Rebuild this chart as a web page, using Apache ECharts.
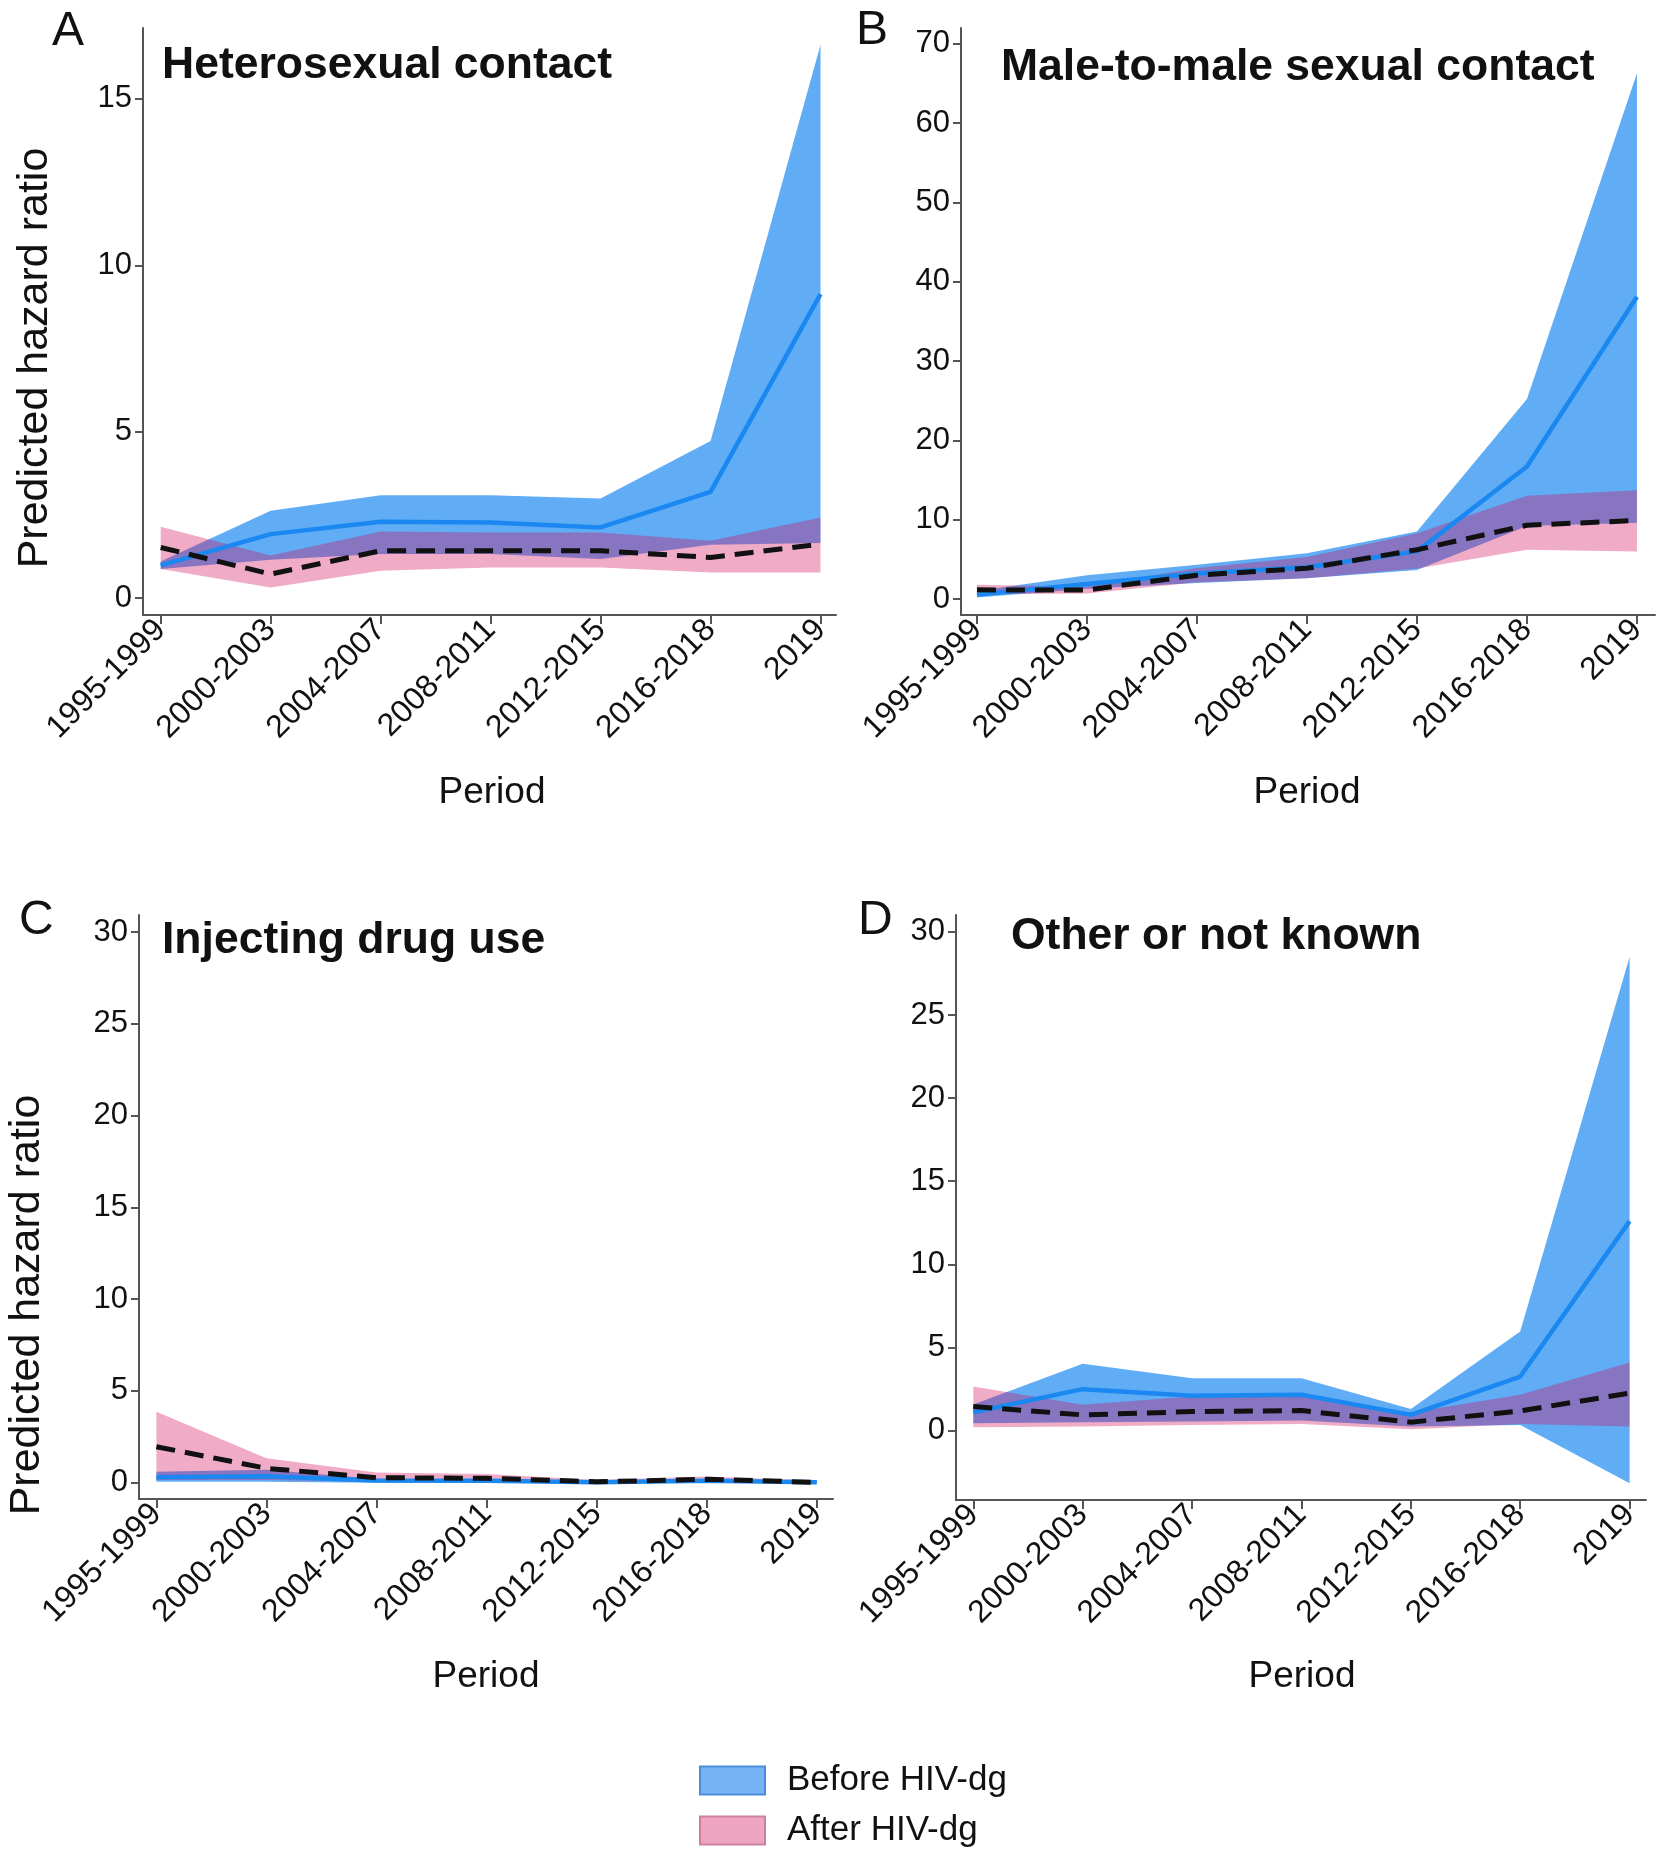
<!DOCTYPE html>
<html><head><meta charset="utf-8">
<script src="https://cdn.jsdelivr.net/npm/echarts@6/dist/echarts.min.js"></script>
<style>html,body{margin:0;padding:0;background:#fff}#c{width:1661px;height:1854px}</style>
</head><body><div id="c"></div>
<script>
// ---------- data ----------
const periods = ['1995-1999','2000-2003','2004-2007','2008-2011','2012-2015','2016-2018','2019'];
const xTicks = [0,1,2,3,4,5,6];
const yTicksA = [0,5,10,15];
const yTicksB = [0,10,20,30,40,50,60,70];
const yTicksC = [0,5,10,15,20,25,30];
const yTicksD = [0,5,10,15,20,25,30];
const panelTitles = ['Heterosexual contact','Male-to-male sexual contact','Injecting drug use','Other or not known'];
const panelLetters = ['A','B','C','D'];
const legendNames = ['Before HIV-dg','After HIV-dg'];

// A: Heterosexual contact
const A_beforeMean = [0.98, 1.92, 2.29, 2.27, 2.12, 3.19, 9.13];
const A_beforeLow  = [0.87, 1.15, 1.32, 1.32, 1.17, 1.60, 1.65];
const A_beforeHigh = [1.10, 2.62, 3.09, 3.09, 2.99, 4.72, 16.63];
const A_afterMean  = [1.52, 0.72, 1.42, 1.42, 1.42, 1.22, 1.62];
const A_afterLow   = [0.87, 0.32, 0.82, 0.92, 0.92, 0.77, 0.77];
const A_afterHigh  = [2.14, 1.28, 2.00, 1.97, 1.97, 1.72, 2.42];
// B: Male-to-male sexual contact
const B_beforeMean = [0.55, 1.90, 3.20, 4.00, 6.00, 16.7, 38.1];
const B_beforeLow  = [0.20, 1.30, 2.00, 2.60, 3.65, 9.2, 9.6];
const B_beforeHigh = [1.00, 3.00, 4.30, 5.75, 8.50, 25.2, 66.3];
const B_afterMean  = [1.15, 1.13, 3.00, 3.87, 6.20, 9.3, 9.9];
const B_afterLow   = [0.60, 0.70, 2.10, 2.60, 3.85, 6.2, 6.0];
const B_afterHigh  = [1.80, 1.55, 3.90, 5.30, 8.30, 13.0, 13.7];
// C: Injecting drug use
const C_beforeMean = [0.30, 0.35, 0.12, 0.10, 0.02, 0.10, 0.02];
const C_beforeLow  = [0.05, 0.05, 0.00, 0.00, 0.00, 0.00, 0.00];
const C_beforeHigh = [0.60, 0.70, 0.20, 0.18, 0.08, 0.20, 0.08];
const C_afterMean  = [1.96, 0.78, 0.27, 0.24, 0.05, 0.18, 0.02];
const C_afterLow   = [0.15, 0.15, 0.05, 0.05, 0.00, 0.05, 0.00];
const C_afterHigh  = [3.87, 1.33, 0.55, 0.47, 0.15, 0.33, 0.10];
// D: Other or not known
const D_beforeMean = [1.10, 2.49, 2.09, 2.15, 0.94, 3.25, 12.6];
const D_beforeLow  = [0.44, 0.50, 0.54, 0.60, 0.24, 0.34, -3.17];
const D_beforeHigh = [1.56, 4.02, 3.15, 3.15, 1.29, 5.96, 28.5];
const D_afterMean  = [1.45, 0.94, 1.14, 1.20, 0.50, 1.18, 2.25];
const D_afterLow   = [0.20, 0.25, 0.34, 0.40, 0.08, 0.40, 0.24];
const D_afterHigh  = [2.65, 1.55, 2.05, 2.09, 1.08, 2.15, 4.10];

// ---------- layout / style ----------
const FONT = "'Liberation Sans', Arial, Helvetica, sans-serif";
const blueFill = 'rgba(28,138,242,0.70)';
const pinkFill = 'rgba(212,10,90,0.34)';
const blueLine = '#1a88f0';
const axisCol = '#555';

const panels = [
  {grid:{left:143, top:28, width:693, height:587}, x:[-0.161,6.141], y:[-0.51,17.13], yt:yTicksA,
   bm:A_beforeMean, bl:A_beforeLow, bh:A_beforeHigh, am:A_afterMean, al:A_afterLow, ah:A_afterHigh},
  {grid:{left:961, top:28, width:694, height:587}, x:[-0.145,6.164], y:[-2.02,71.99], yt:yTicksB,
   bm:B_beforeMean, bl:B_beforeLow, bh:B_beforeHigh, am:B_afterMean, al:B_afterLow, ah:B_afterHigh},
  {grid:{left:139, top:915, width:694, height:584}, x:[-0.158,6.147], y:[-0.89,30.93], yt:yTicksC,
   bm:C_beforeMean, bl:C_beforeLow, bh:C_beforeHigh, am:C_afterMean, al:C_afterLow, ah:C_afterHigh},
  {grid:{left:956, top:915, width:690, height:585}, x:[-0.158,6.15], y:[-4.18,31.02], yt:yTicksD,
   bm:D_beforeMean, bl:D_beforeLow, bh:D_beforeHigh, am:D_afterMean, al:D_afterLow, ah:D_afterHigh}
];

const grids = [], xAxes = [], yAxes = [], series = [];
panels.forEach((p, k) => {
  grids.push(Object.assign({containLabel:false}, p.grid));
  xAxes.push({
    type:'value', gridIndex:k, min:p.x[0], max:p.x[1],
    axisLine:{show:true, onZero:false, lineStyle:{color:axisCol, width:2}},
    axisTick:{show:true, customValues:xTicks, length:9, lineStyle:{color:axisCol, width:2}},
    axisLabel:{show:true, customValues:xTicks, rotate:45, margin:10, fontSize:32, color:'#111', fontFamily:FONT,
               formatter:(v)=>periods[Math.round(v)]},
    splitLine:{show:false}
  });
  yAxes.push({
    type:'value', gridIndex:k, min:p.y[0], max:p.y[1],
    axisLine:{show:true, onZero:false, lineStyle:{color:axisCol, width:2}},
    axisTick:{show:true, customValues:p.yt, length:8, lineStyle:{color:axisCol, width:2}},
    axisLabel:{show:true, customValues:p.yt, margin:11, fontSize:31, color:'#111', fontFamily:FONT},
    splitLine:{show:false}
  });
  const band = (name, lows, highs, color) => ({
    type:'custom', name, xAxisIndex:k, yAxisIndex:k, data:[[0,0]], silent:true, clip:true,
    itemStyle:{color},
    renderItem:(params, api) => {
      const pts = [];
      for (let i = 0; i < highs.length; i++) pts.push(api.coord([i, highs[i]]));
      for (let i = lows.length - 1; i >= 0; i--) pts.push(api.coord([i, lows[i]]));
      return {type:'polygon', shape:{points:pts}, style:{fill:color}};
    }
  });
  series.push(band(legendNames[0], p.bl, p.bh, blueFill));
  series.push(band(legendNames[1], p.al, p.ah, pinkFill));
  series.push({type:'line', name:'beforeMean'+k, xAxisIndex:k, yAxisIndex:k, symbol:'none', silent:true,
    data:p.bm.map((v,i)=>[i,v]), lineStyle:{color:blueLine, width:4.5}, z:3});
  series.push({type:'line', name:'afterMean'+k, xAxisIndex:k, yAxisIndex:k, symbol:'none', silent:true,
    data:p.am.map((v,i)=>[i,v]), lineStyle:{color:'#111', width:5, type:[19,10], cap:'butt'}, z:4});
});

const txt = (text, x, y, size, weight, align) => ({
  type:'text', x, y, silent:true,
  style:{text, font:(weight||'normal')+' '+size+'px '+FONT, fill:'#111', textAlign:align||'left', textVerticalAlign:'middle'}
});

const graphics = [
  txt(panelLetters[0], 52, 32, 48),
  txt(panelLetters[1], 856, 31, 48),
  txt(panelLetters[2], 19, 921, 48),
  txt(panelLetters[3], 858, 921, 48),
  txt(panelTitles[0], 162, 66, 44.5, 'bold'),
  txt(panelTitles[1], 1001, 68, 44.5, 'bold'),
  txt(panelTitles[2], 162, 941, 44.5, 'bold'),
  txt(panelTitles[3], 1011, 937, 44.5, 'bold'),
  {type:'text', x:35, y:358, rotation:Math.PI/2, silent:true,
   style:{text:'Predicted hazard ratio', font:'normal 43px '+FONT, fill:'#111', textAlign:'center', textVerticalAlign:'middle'}},
  {type:'text', x:27, y:1305, rotation:Math.PI/2, silent:true,
   style:{text:'Predicted hazard ratio', font:'normal 43px '+FONT, fill:'#111', textAlign:'center', textVerticalAlign:'middle'}},
  txt('Period', 492, 793, 37, 'normal', 'center'),
  txt('Period', 1307, 793, 37, 'normal', 'center'),
  txt('Period', 486, 1677, 37, 'normal', 'center'),
  txt('Period', 1302, 1677, 37, 'normal', 'center')
];

const legendItemStyles = [
  {color:'#78b4f5', borderColor:'#4a8ddc', borderWidth:2},
  {color:'#eea6c0', borderColor:'#cf7ea0', borderWidth:2}
];
const legendTops = [1763, 1813];
const legends = legendNames.map((n, i) => ({
  left:699, top:legendTops[i], orient:'horizontal', icon:'rect', itemWidth:65, itemHeight:28, padding:0,
  selectedMode:false,
  textStyle:{fontSize:35, color:'#111', fontFamily:FONT, padding:[0,0,0,17]},
  data:[{name:n, itemStyle:legendItemStyles[i]}]
}));

const chart = echarts.init(document.getElementById('c'), null, {renderer:'canvas', width:1661, height:1854});
chart.setOption({
  animation:false,
  backgroundColor:'#fff',
  textStyle:{fontFamily:FONT},
  grid:grids, xAxis:xAxes, yAxis:yAxes, series,
  legend:legends,
  graphic:graphics
});
</script></body></html>
